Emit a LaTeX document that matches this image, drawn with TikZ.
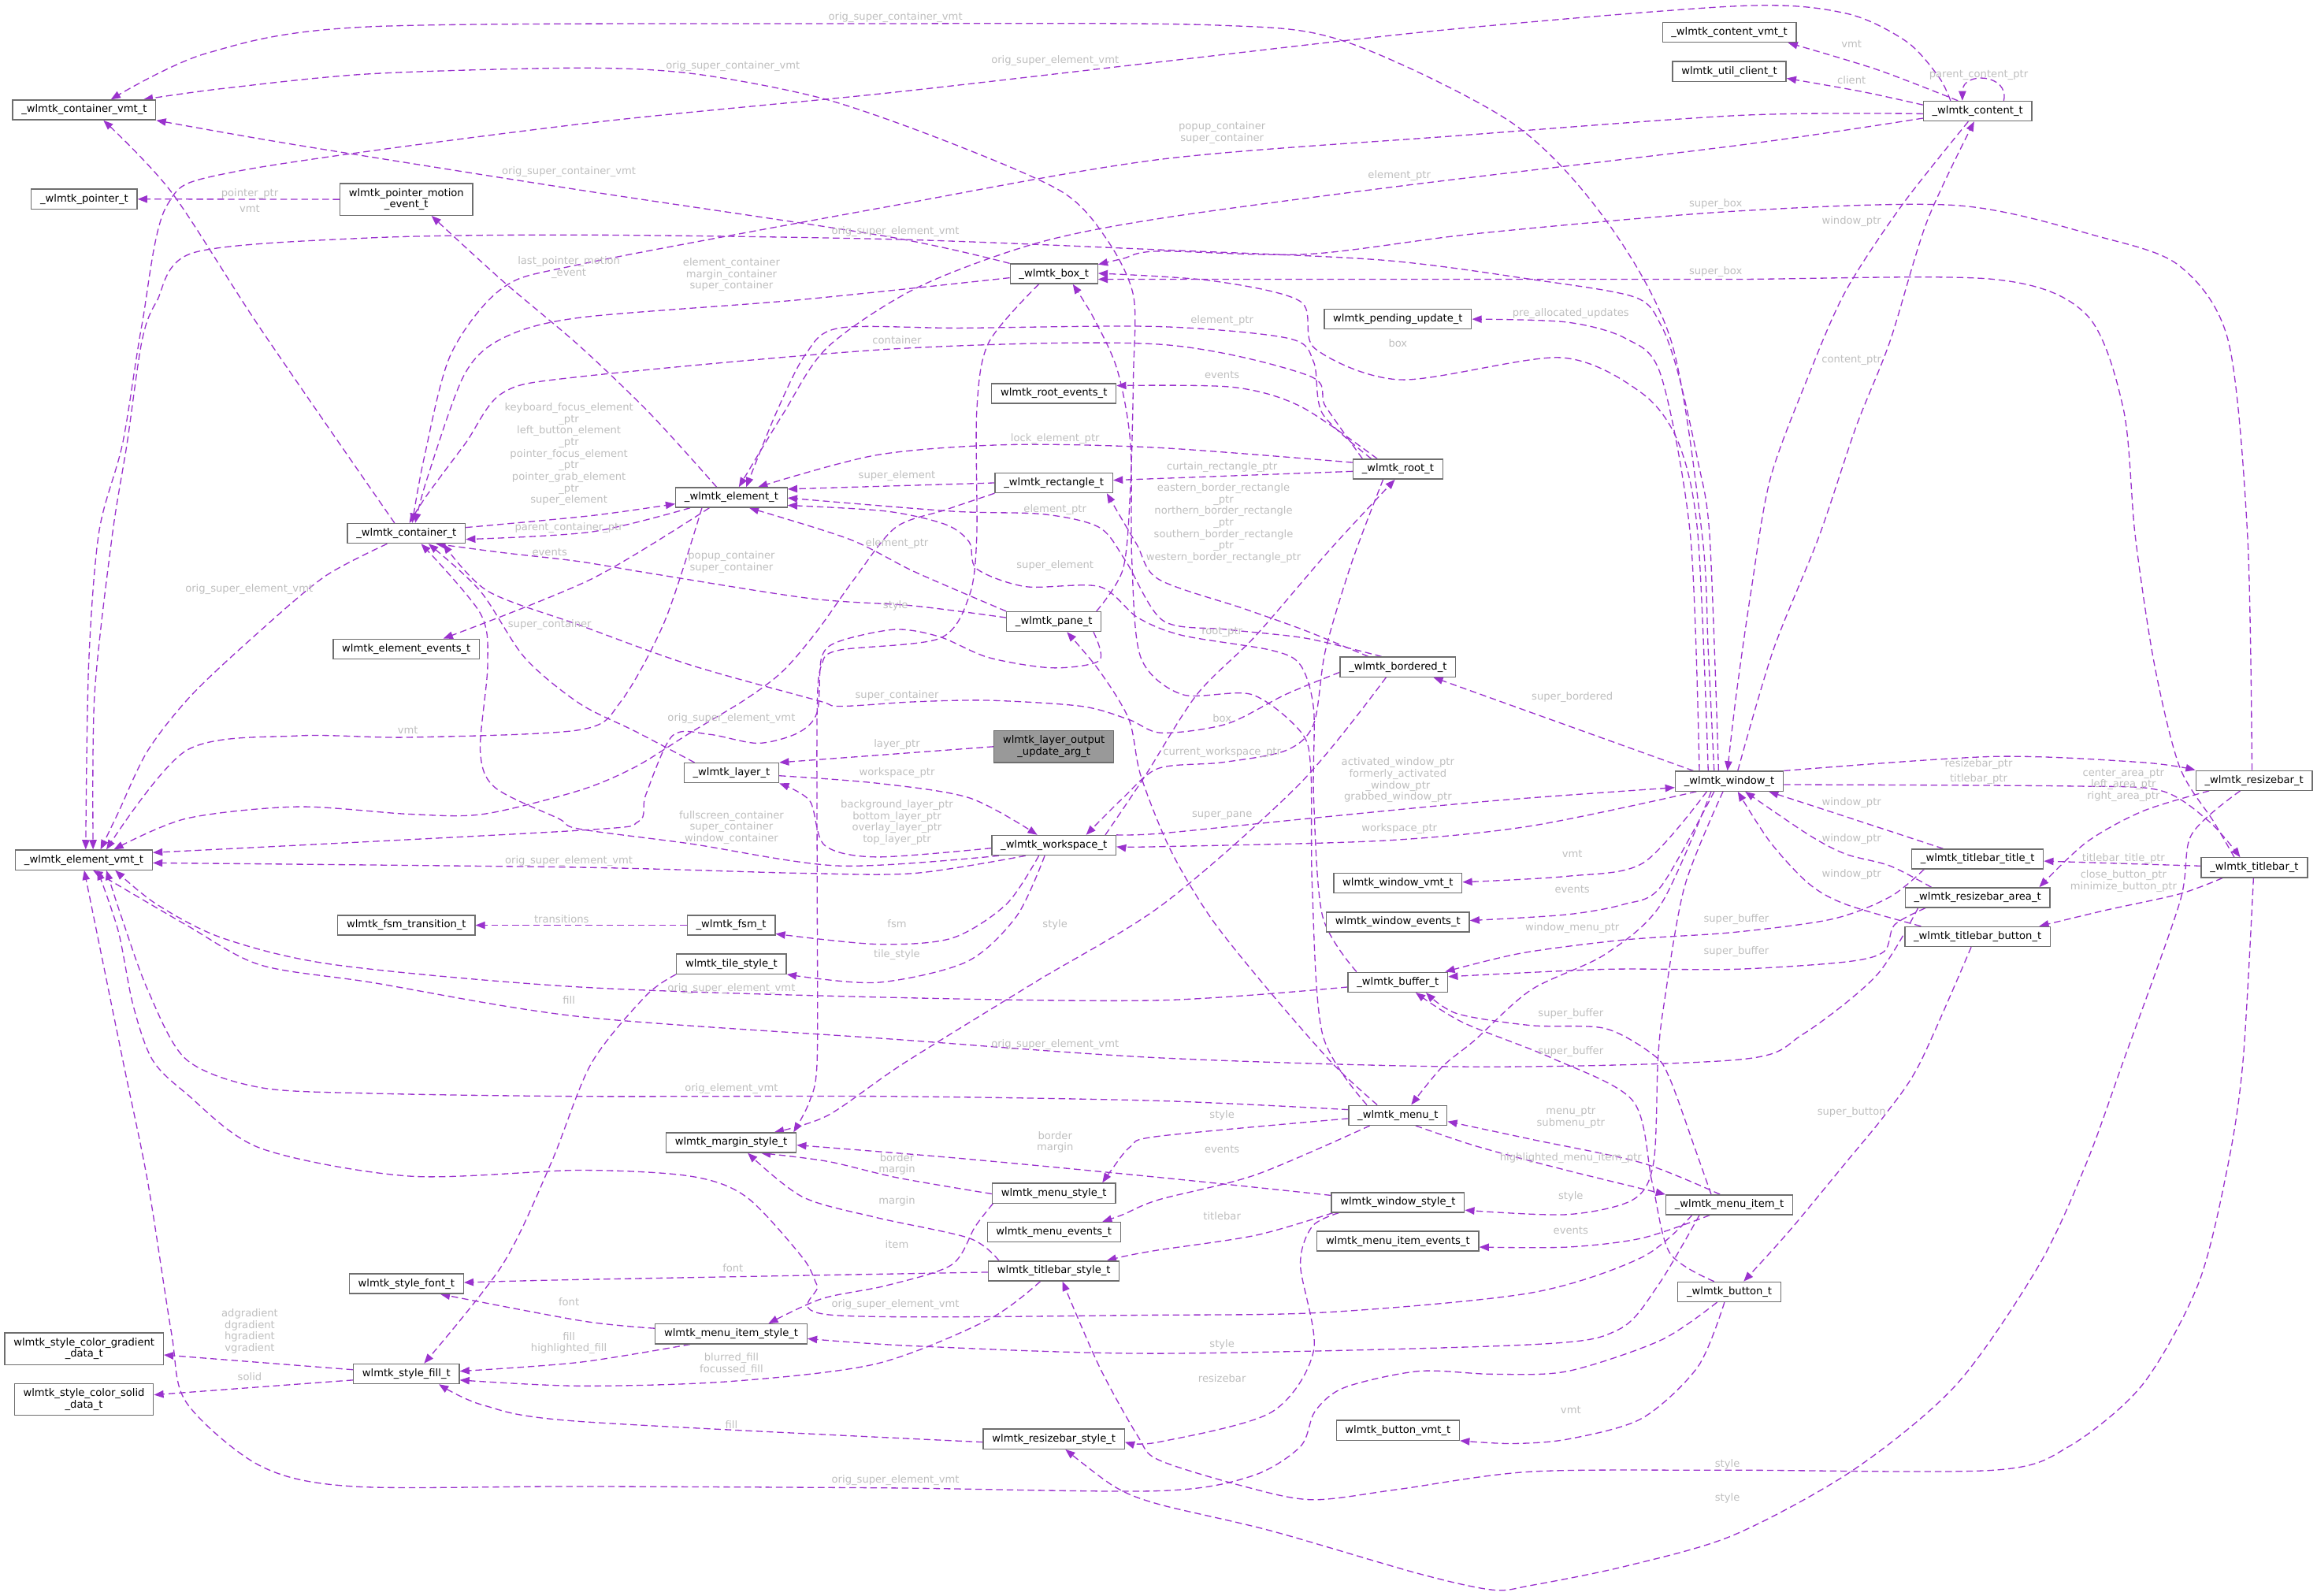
\documentclass[tikz,border=0pt]{standalone}
\usepackage{fontspec}
\setmainfont{DejaVu Sans}
\usetikzlibrary{arrows.meta}
\definecolor{depcol}{RGB}{154,50,205}
\definecolor{boxgray}{RGB}{110,110,110}
\definecolor{lblgray}{RGB}{190,190,190}
\definecolor{hlgray}{RGB}{153,153,153}
\pgfdeclarelayer{bg}
\pgfsetlayers{bg,main}
\tikzset{
  cls/.style={draw=boxgray, line width=0.7pt, fill=white, font=\fontsize{7}{7.8}\selectfont, inner xsep=6pt, inner ysep=2pt, minimum height=13.4pt},
  cls2/.style={cls, align=center, minimum height=21.4pt},
  dep/.style={draw=depcol, line width=0.7pt, dash pattern=on 4.5pt off 2.6pt, -{Triangle[length=6.5pt,width=5pt]}},
  lbl/.style={text=lblgray, font=\fontsize{7}{7.8}\selectfont, inner sep=0pt, align=center},
}
\begin{document}
\begin{tikzpicture}[x=1pt,y=-1pt]
	\useasboundingbox (0,0) rectangle (1568,1080);

	\node[cls] (cvmt) at (57,74.4) {\_wlmtk\_container\_vmt\_t};
	\node[cls] (ptr) at (57,134.7) {\_wlmtk\_pointer\_t};
	\node[cls2] (pme) at (275,135) {wlmtk\_pointer\_motion\\\_event\_t};
	\node[cls] (cont) at (275,361) {\_wlmtk\_container\_t};
	\node[cls] (evmt) at (56.8,582) {\_wlmtk\_element\_vmt\_t};
	\node[cls] (eev) at (275,439.2) {wlmtk\_element\_events\_t};
	\node[cls] (fsmtr) at (275,626.2) {wlmtk\_fsm\_transition\_t};
	\node[cls] (elem) at (495,336.7) {\_wlmtk\_element\_t};
	\node[cls] (box) at (713.2,185.3) {\_wlmtk\_box\_t};
	\node[cls] (rev) at (713.2,266.3) {wlmtk\_root\_events\_t};
	\node[cls] (rect) at (713.2,326.8) {\_wlmtk\_rectangle\_t};
	\node[cls] (pend) at (946,216) {wlmtk\_pending\_update\_t};
	\node[cls] (root) at (946,317.5) {\_wlmtk\_root\_t};
	\node[cls] (ctvmt) at (1170.3,21.9) {\_wlmtk\_content\_vmt\_t};
	\node[cls] (client) at (1170.3,48.3) {wlmtk\_util\_client\_t};
	\node[cls] (content) at (1338.3,75.2) {\_wlmtk\_content\_t};
	\node[cls] (pane) at (713.2,420.7) {\_wlmtk\_pane\_t};
	\node[cls2,fill=hlgray] (luarg) at (713.2,505.3) {wlmtk\_layer\_output\\\_update\_arg\_t};
	\node[cls] (layer) at (495,523.1) {\_wlmtk\_layer\_t};
	\node[cls] (ws) at (713.2,572.1) {\_wlmtk\_workspace\_t};
	\node[cls] (fsm) at (494.8,626.2) {\_wlmtk\_fsm\_t};
	\node[cls] (tile) at (495,652.4) {wlmtk\_tile\_style\_t};
	\node[cls] (bord) at (946,451.4) {\_wlmtk\_bordered\_t};
	\node[cls] (win) at (1170.3,528.7) {\_wlmtk\_window\_t};
	\node[cls] (wvmt) at (946,597.7) {wlmtk\_window\_vmt\_t};
	\node[cls] (wev) at (946,624) {wlmtk\_window\_events\_t};
	\node[cls] (buf) at (946,664.7) {\_wlmtk\_buffer\_t};
	\node[cls] (rbar) at (1525.4,528.2) {\_wlmtk\_resizebar\_t};
	\node[cls] (tbtitle) at (1338.3,581.4) {\_wlmtk\_titlebar\_title\_t};
	\node[cls] (tbar) at (1525.6,587.2) {\_wlmtk\_titlebar\_t};
	\node[cls] (rarea) at (1338.3,607.5) {\_wlmtk\_resizebar\_area\_t};
	\node[cls] (tbbtn) at (1338.3,633.9) {\_wlmtk\_titlebar\_button\_t};
	\node[cls2] (grad) at (56.9,912.8) {wlmtk\_style\_color\_gradient\\\_data\_t};
	\node[cls2] (solid) at (56.8,947) {wlmtk\_style\_color\_solid\\\_data\_t};
	\node[cls] (font) at (275,868.8) {wlmtk\_style\_font\_t};
	\node[cls] (fill) at (275,929.8) {wlmtk\_style\_fill\_t};
	\node[cls] (margin) at (494.8,773.3) {wlmtk\_margin\_style\_t};
	\node[cls] (mstyle) at (713.2,807.5) {wlmtk\_menu\_style\_t};
	\node[cls] (mev) at (713.2,833.9) {wlmtk\_menu\_events\_t};
	\node[cls] (tbstyle) at (713.2,860.2) {wlmtk\_titlebar\_style\_t};
	\node[cls] (mistyle) at (494.8,902.8) {wlmtk\_menu\_item\_style\_t};
	\node[cls] (rbstyle) at (713.2,973.9) {wlmtk\_resizebar\_style\_t};
	\node[cls] (menu) at (946,754.8) {\_wlmtk\_menu\_t};
	\node[cls] (wstyle) at (946,813.8) {wlmtk\_window\_style\_t};
	\node[cls] (miev) at (946,840) {wlmtk\_menu\_item\_events\_t};
	\node[cls] (bvmt) at (946,968) {wlmtk\_button\_vmt\_t};
	\node[cls] (mitem) at (1170.3,815.4) {\_wlmtk\_menu\_item\_t};
	\node[cls] (button) at (1170.3,874.3) {\_wlmtk\_button\_t};

	\begin{pgfonlayer}{bg}
	\draw[dep] plot[smooth] coordinates {(win.north -| 1160,0) (1156,440) (1152,363) (1131,231) (1086,148) (1023,83) (910,28) (822,17) (600,16) (252,18) (140,36) (cvmt.north -| 75,0)};
	\draw[dep] plot[smooth] coordinates {(pane.north -| 742,0) (760,385) (765,330) (767,254) (767,200) (749,162) (719,130) (644,97) (558,67) (470,50) (392,46) (250,50) (150,60) (cvmt.north -| 97,0)};
	\draw[dep] plot[smooth] coordinates {(box.north west) (600,160) (395,129) (200,98) (cvmt.south east)};
	\draw[dep] plot[smooth] coordinates {(cont.north -| 267,0) (176,222) (116,130) (cvmt.south -| 70,0)};

	\draw[dep] (pme) -- (ptr);
	\draw[dep] plot[smooth] coordinates {(elem.north -| 485,0) (440,280) (392,234) (340,190) (pme.south -| 292,0)};

	\draw[dep] plot[smooth] coordinates {(content.north -| 1325,0) (1270,47) (ctvmt.south -| 1210,0)};
	\draw[dep] plot[smooth] coordinates {(content.west |- 0,71) (1260,62) (client.east |- 0,53)};
	\draw[dep] (content.north -| 1356,0) .. controls (1360,50) and (1328,48) .. (content.north -| 1328,0);
	\draw[dep] plot[smooth] coordinates {(content.north -| 1320,0) (1312,52) (1290,28) (1249,9) (1178,4) (980,20) (784,42) (600,63) (392,84) (160,116) (113,139) (96,220) (83,300) (67,360) (60,450) (evmt.north -| 58,0)};
	\draw[dep] plot[smooth] coordinates {(content.west |- 0,77) (1179,78) (984,92) (784,108) (600,140) (392,179) (340,195) (305,240) (287,310) (cont.north -| 279,0)};
	\draw[dep] plot[smooth] coordinates {(content.west |- 0,80) (1179,98) (947,126) (784,148) (700,165) (620,195) (560,235) (530,280) (elem.north -| 500,0)};
	\draw[dep] plot[smooth] coordinates {(content.south -| 1332,0) (1287,139) (1249,197) (1224,254) (1198,324) (1185,400) (1175,470) (win.north -| 1169,0)};

	\draw[dep] plot[smooth] coordinates {(win.north -| 1176,0) (1200,440) (1231,363) (1256,289) (1279,231) (1304,150) (content.south -| 1336,0)};
	\draw[dep] plot[smooth] coordinates {(win.north -| 1163,0) (1157,363) (1149,312) (1136,254) (1124,220) (1106,201) (1036,189) (935,176) (784,169) (606,162) (394,159) (250,161) (131,171) (106,204) (96,231) (86,300) (76,362) (64,470) (evmt.north -| 63,0)};
	\draw[dep] plot[smooth] coordinates {(win.north -| 1156,0) (1149,362) (1136,300) (1111,266) (1056,242) (948,257) (890,236) (880,204) (820,190) (box.east |- 0,185)};
	\draw[dep] plot[smooth] coordinates {(win.north -| 1150,0) (1144,363) (1124,254) (1100,229) (1060,218) (pend.east)};
	\draw[dep] (win.north -| 1146,0) -- (bord.south -| 970,0);
	\draw[dep] plot[smooth] coordinates {(win.south -| 1148,0) (1036,559) (935,569) (784,573) (ws.east |- 0,573)};
	\draw[dep] plot[smooth] coordinates {(win.south -| 1155,0) (1112,584) (1061,593) (wvmt.east |- 0,597)};
	\draw[dep] plot[smooth] coordinates {(win.south -| 1160,0) (1124,600) (1099,612) (1060,619) (wev.east |- 0,623)};
	\draw[dep] plot[smooth] coordinates {(win.south -| 1158,0) (1124,612) (1086,646) (1036,670) (998,704) (976,722) (menu.north -| 955,0)};
	\draw[dep] plot[smooth] coordinates {(win.south -| 1166,0) (1140,600) (1126,680) (1122,717) (1119,787) (1105,812) (1060,822) (wstyle.east |- 0,819)};
	\draw[dep] plot[smooth] coordinates {(win.north east) (1349,512) (1450,516) (rbar.north west)};
	\draw[dep] plot[smooth] coordinates {(win.east |- 0,531) (1400,532) (1462,535) (1495,556) (tbar.north -| 1516,0)};
	\draw[dep] plot[smooth] coordinates {(ws.north east) (786,564) (885,554) (1010,542) (win.west |- 0,533)};

	\draw[dep] plot[smooth] coordinates {(tbtitle.north -| 1315,0) (1250,553) (win.south -| 1197,0)};
	\draw[dep] plot[smooth] coordinates {(rarea.north -| 1307,0) (1279,586) (1249,578) (1224,565) (win.south -| 1181,0)};
	\draw[dep] plot[smooth] coordinates {(tbbtn.north -| 1300,0) (1249,612) (1224,598) (1198,570) (win.south -| 1176,0)};

	\draw[dep] plot[smooth] coordinates {(rbar.north -| 1524,0) (1521,363) (1508,231) (1475,180) (1420,160) (1324,139) (1173,143) (1000,158) (885,172) (784,170) (760,175) (box.east |- 0,179)};
	\draw[dep] plot[smooth] coordinates {(rbar.south -| 1495,0) (1450,549) (1412,570) (rarea.north -| 1380,0)};
	\draw[dep] plot[smooth] coordinates {(rbar.south -| 1516,0) (1483,565) (1475,611) (1437,718) (1412,787) (1380,856) (1324,937) (1254,995) (1173,1039) (1100,1060) (1036,1073) (1010,1076) (960,1065) (860,1036) (784,1018) (754,1006) (rbstyle.south -| 721,0)};

	\draw[dep] plot[smooth] coordinates {(tbar.north -| 1512,0) (1498,556) (1475,519) (1458,450) (1445,363) (1437,277) (1412,213) (1349,189) (1173,189) (1000,189) (784,189) (box.east |- 0,189)};
	\draw[dep] (tbar) -- (tbtitle);
	\draw[dep] plot[smooth] coordinates {(tbar.south -| 1504,0) (1475,605) (1425,616) (tbbtn.north -| 1380,0)};
	\draw[dep] plot[smooth] coordinates {(tbar.south -| 1525,0) (1518,717) (1508,787) (1488,868) (1450,937) (1400,979) (1349,995) (1173,995) (1036,996) (946,1008) (888,1015) (842,1006) (784,988) (770,972) (744,925) (tbstyle.south -| 719,0)};

	\draw[dep] plot[smooth] coordinates {(tbtitle.south -| 1302,0) (1279,607) (1240,622) (1173,631) (1100,636) (1030,645) (buf.north -| 978,0)};
	\draw[dep] plot[smooth] coordinates {(rarea.south -| 1303,0) (1282,626) (1275,644) (1249,651) (1173,656) (1086,656) (buf.east |- 0,661)};
	\draw[dep] plot[smooth] coordinates {(rarea.south -| 1298,0) (1270,660) (1220,700) (1178,717) (1000,722) (786,716) (600,703) (392,688) (252,665) (176,653) (126,626) (evmt.south -| 63,0)};
	\draw[dep] plot[smooth] coordinates {(tbbtn.south -| 1334,0) (1299,720) (1276,754) (1249,787) (1211,833) (button.north -| 1180,0)};
	\draw[dep] plot[smooth] coordinates {(mitem.north -| 1158,0) (1148,780) (1130,730) (1119,714) (1086,696) (1036,694) (986,686) (buf.south -| 965,0)};
	\draw[dep] plot[smooth] coordinates {(button.north -| 1160,0) (1130,848) (1118,800) (1105,745) (1050,716) (990,692) (buf.south -| 958,0)};
	\draw[dep] plot[smooth] coordinates {(button.south -| 1167,0) (1149,925) (1111,960) (1061,974) (1023,977) (bvmt.south east)};
	\draw[dep] plot[smooth] coordinates {(button.south -| 1162,0) (1124,907) (1061,928) (1010,930) (960,928) (910,939) (890,955) (880,979) (847,999) (784,1009) (600,1007) (392,1006) (239,1006) (176,992) (126,949) (116,902) (100,800) (83,717) (evmt.south -| 57,0)};

	\draw[dep] plot[smooth] coordinates {(mitem.north -| 1164,0) (1111,787) (1036,771) (menu.east |- 0,759)};
	\draw[dep] plot[smooth] coordinates {(menu.south -| 958,0) (1000,776) (1060,792) (mitem.north west)};
	\draw[dep] plot[smooth] coordinates {(menu.west |- 0,757) (784,769) (765,776) (752,792) (mstyle.north -| 746,0)};
	\draw[dep] plot[smooth] coordinates {(menu.south -| 927,0) (850,795) (784,812) (760,822) (mev.north -| 746,0)};
	\draw[dep] plot[smooth] coordinates {(menu.west |- 0,751) (784,745) (600,742) (394,742) (252,740) (176,736) (126,717) (100,670) (82,620) (evmt.south -| 72,0)};
	\draw[dep] plot[smooth] coordinates {(menu.north -| 932,0) (902,720) (860,672) (820,622) (792,575) (772,525) (764,487) (744,454) (pane.south -| 722,0)};
	\draw[dep] plot[smooth] coordinates {(menu.north -| 925,0) (895,700) (888,600) (887,520) (880,495) (847,470) (800,470) (772,445) (766,380) (765,300) (756,250) (740,215) (box.south -| 726,0)};

	\draw[dep] plot[smooth] coordinates {(mitem.south -| 1157,0) (1111,838) (1061,844) (miev.east |- 0,844)};
	\draw[dep] plot[smooth] coordinates {(mitem.south -| 1150,0) (1122,870) (1095,900) (1036,910) (784,916) (620,911) (mistyle.east |- 0,906)};
	\draw[dep] plot[smooth] coordinates {(mitem.south -| 1145,0) (1111,851) (1036,875) (900,888) (784,890) (563,890) (553,870) (543,851) (505,810) (467,796) (392,792) (277,796) (176,777) (126,740) (103,717) (90,680) (80,630) (evmt.south -| 66,0)};

	\draw[dep] plot[smooth] coordinates {(wstyle.west |- 0,809) (786,797) (650,784) (margin.east |- 0,775)};
	\draw[dep] plot[smooth] coordinates {(wstyle.south -| 902,0) (850,836) (784,846) (762,850) (tbstyle.north -| 749,0)};
	\draw[dep] plot[smooth] coordinates {(wstyle.south -| 906,0) (888,830) (880,856) (889,914) (860,956) (784,976) (rbstyle.east |- 0,976)};
	\draw[dep] plot[smooth] coordinates {(mstyle.west |- 0,808) (607,797) (560,786) (margin.south -| 515,0)};
	\draw[dep] plot[smooth] coordinates {(tbstyle.north -| 676,0) (656,838) (593,824) (543,810) (margin.south -| 506,0)};
	\draw[dep] plot[smooth] coordinates {(mstyle.south -| 672,0) (660,830) (644,856) (600,870) (556,879) (mistyle.north -| 520,0)};
	\draw[dep] plot[smooth] coordinates {(tbstyle.west |- 0,861) (392,866) (font.east |- 0,868)};
	\draw[dep] plot[smooth] coordinates {(mistyle.west |- 0,899) (394,894) (font.south -| 298,0)};
	\draw[dep] plot[smooth] coordinates {(mistyle.south -| 467,0) (392,922) (fill.east |- 0,928)};
	\draw[dep] plot[smooth] coordinates {(tbstyle.south -| 704,0) (669,893) (593,923) (493,935) (392,938) (fill.east |- 0,934)};
	\draw[dep] plot[smooth] coordinates {(rbstyle.west |- 0,976) (392,962) (327,951) (fill.south -| 297,0)};
	\draw[dep] plot[smooth] coordinates {(tile.south west) (437,674) (400,720) (373,787) (340,856) (fill.north -| 287,0)};
	\draw[dep] (fill.west |- 0,927) -- (grad.east |- 0,917);
	\draw[dep] (fill.west |- 0,934) -- (solid.east |- 0,944);

	\draw[dep] plot[smooth] coordinates {(layer.east |- 0,525) (593,530) (656,540) (ws.north -| 702,0)};
	\draw[dep] plot[smooth] coordinates {(ws.west |- 0,574) (593,580) (558,572) (548,542) (layer.south east)};
	\draw[dep] (luarg.west) -- (layer.north east);
	\draw[dep] plot[smooth] coordinates {(ws.south -| 694,0) (619,591) (543,591) (392,587) (evmt.east |- 0,584)};
	\draw[dep] plot[smooth] coordinates {(ws.south -| 676,0) (568,586) (467,571) (392,561) (378,554) (335,533) (325,508) (330,450) (325,415) (cont.south -| 285,0)};
	\draw[dep] plot[smooth] coordinates {(ws.south -| 703,0) (681,612) (644,635) (593,639) (fsm.east |- 0,632)};
	\draw[dep] plot[smooth] coordinates {(ws.south -| 707,0) (688,620) (654,651) (593,665) (tile.south east)};
	\draw[dep] (fsm) -- (fsmtr);
	\draw[dep] plot[smooth] coordinates {(root.south -| 936,0) (915,380) (897,440) (889,490) (870,508) (827,516) (784,520) (760,540) (ws.north -| 735,0)};
	\draw[dep] plot[smooth] coordinates {(ws.north -| 748,0) (775,525) (810,470) (850,430) (900,372) (root.south -| 944,0)};

	\draw[dep] plot[smooth] coordinates {(root.north -| 922,0) (897,275) (885,254) (784,233) (607,236) (392,255) (340,266) (315,300) (289,335) (cont.north -| 277,0)};
	\draw[dep] plot[smooth] coordinates {(root.north -| 932,0) (880,275) (834,262) (rev.east |- 0,261)};
	\draw[dep] plot[smooth] coordinates {(root.west |- 0,313) (784,303) (681,301) (593,308) (elem.north -| 513,0)};
	\draw[dep] (root.west |- 0,319) -- (rect.east |- 0,325);
	\draw[dep] plot[smooth] coordinates {(root.north -| 928,0) (895,280) (889,245) (872,229) (784,221) (650,222) (568,222) (545,240) (525,280) (elem.north -| 505,0)};

	\draw[dep] plot[smooth] coordinates {(bord.north -| 926,0) (884,427) (842,412) (784,392) (769,368) (rect.south -| 749,0)};
	\draw[dep] plot[smooth] coordinates {(bord.north -| 935,0) (884,432) (830,426) (787,420) (762,380) (744,357) (706,348) (644,346) (elem.east |- 0,337)};
	\draw[dep] plot[smooth] coordinates {(bord.west |- 0,455) (870,470) (830,490) (786,496) (764,487) (732,478) (669,474) (618,475) (568,478) (553,474) (467,450) (392,423) (330,400) (cont.south -| 300,0)};
	\draw[dep] plot[smooth] coordinates {(bord.south -| 938,0) (880,530) (787,612) (700,665) (611,720) (560,755) (margin.north -| 524,0)};

	\draw[dep] plot[smooth] coordinates {(buf.west |- 0,668) (784,677) (600,675) (392,668) (227,653) (151,635) (106,612) (evmt.south -| 78,0)};
	\draw[dep] plot[smooth] coordinates {(buf.north -| 918,0) (895,620) (889,540) (889,480) (880,450) (860,440) (800,430) (770,418) (744,397) (694,397) (661,385) (656,367) (640,355) (600,346) (elem.east |- 0,342)};

	\draw[dep] plot[smooth] coordinates {(cont.east |- 0,357) (400,349) (elem.west |- 0,341)};
	\draw[dep] plot[smooth] coordinates {(elem.south -| 467,0) (400,360) (cont.east |- 0,365)};
	\draw[dep] plot[smooth] coordinates {(elem.south -| 480,0) (400,392) (eev.north -| 300,0)};
	\draw[dep] plot[smooth] coordinates {(cont.south -| 262,0) (220,390) (176,427) (130,470) (100,508) (80,550) (evmt.north -| 68,0)};
	\draw[dep] plot[smooth] coordinates {(elem.south -| 475,0) (450,420) (420,475) (392,494) (277,499) (201,498) (126,508) (evmt.north -| 72,0)};
	\draw[dep] (rect.west) -- (elem.east |- 0,331);
	\draw[dep] plot[smooth] coordinates {(rect.south west) (640,345) (606,357) (578,392) (553,427) (530,454) (505,473) (467,496) (430,519) (392,535) (327,551) (277,551) (201,546) (126,554) (evmt.north -| 77,0)};
	\draw[dep] plot[smooth] coordinates {(pane.north west) (619,387) (575,365) (elem.south -| 507,0)};
	\draw[dep] plot[smooth] coordinates {(pane.west |- 0,418) (618,410) (548,405) (440,388) (392,380) (340,374) (cont.south -| 295,0)};
	\draw[dep] plot[smooth] coordinates {(pane.south -| 740,0) (744,447) (712,452) (669,445) (636,431) (606,426) (568,434) (556,445) (553,482) (540,496) (513,503) (480,497) (455,498) (437,538) (432,556) (392,562) (evmt.east |- 0,577)};
	\draw[dep] plot[smooth] coordinates {(box.west |- 0,188) (540,203) (392,215) (340,229) (314,254) (289,324) (cont.north -| 281,0)};
	\draw[dep] plot[smooth] coordinates {(box.south -| 703,0) (669,232) (661,278) (661,363) (656,403) (636,432) (568,440) (556,450) (553,480) (553,600) (553,717) (548,745) (margin.north -| 537,0)};
	\draw[dep] plot[smooth] coordinates {(layer.north -| 470,0) (430,495) (392,476) (355,445) (325,400) (cont.south -| 290,0)};
	\end{pgfonlayer}

	\node[lbl] (l1) at (606,12) {orig\_super\_container\_vmt};
	\node[lbl] (l2) at (496,45) {orig\_super\_container\_vmt};
	\node[lbl] (l3) at (714,41) {orig\_super\_element\_vmt};
	\node[lbl] (l4) at (385,116) {orig\_super\_container\_vmt};
	\node[lbl] (l5) at (169,131) {pointer\_ptr};
	\node[lbl] (l6) at (169,141) {vmt};
	\node[lbl] (l7) at (385,181) {last\_pointer\_motion\\\_event};
	\node[lbl] (l8) at (1253,30) {vmt};
	\node[lbl] (l9) at (1253,54) {client};
	\node[lbl] (l10) at (1339,51) {parent\_content\_ptr};
	\node[lbl] (l11) at (827,90) {popup\_container\\super\_container};
	\node[lbl] (l12) at (947,119) {element\_ptr};
	\node[lbl] (l13) at (1253,150) {window\_ptr};
	\node[lbl] (l14) at (1253,244) {content\_ptr};
	\node[lbl] (l15) at (606,157) {orig\_super\_element\_vmt};
	\node[lbl] (l16) at (1161,138) {super\_box};
	\node[lbl] (l17) at (1161,184) {super\_box};
	\node[lbl] (l18) at (946,232) {box};
	\node[lbl] (l19) at (1063,212) {pre\_allocated\_updates};
	\node[lbl] (l20) at (495,186) {element\_container\\margin\_container\\super\_container};
	\node[lbl] (l21) at (607,230) {container};
	\node[lbl] (l22) at (827,254) {events};
	\node[lbl] (l23) at (714,297) {lock\_element\_ptr};
	\node[lbl] (l24) at (827,316) {curtain\_rectangle\_ptr};
	\node[lbl] (l25) at (828,354) {eastern\_border\_rectangle\\\_ptr\\northern\_border\_rectangle\\\_ptr\\southern\_border\_rectangle\\\_ptr\\western\_border\_rectangle\_ptr};
	\node[lbl] (l26) at (714,345) {element\_ptr};
	\node[lbl] (l27) at (607,322) {super\_element};
	\node[lbl] (l28) at (827,217) {element\_ptr};
	\node[lbl] (l29) at (607,368) {element\_ptr};
	\node[lbl] (l30) at (495,380.5) {popup\_container\\super\_container};
	\node[lbl] (l31) at (827,552) {super\_pane};
	\node[lbl] (l32) at (606,410) {style};
	\node[lbl] (l33) at (495,486) {orig\_super\_element\_vmt};
	\node[lbl] (l34) at (607,471) {super\_container};
	\node[lbl] (l35) at (372,423) {super\_container};
	\node[lbl] (l36) at (495,560) {fullscreen\_container\\super\_container\\window\_container};
	\node[lbl] (l37) at (607,523) {workspace\_ptr};
	\node[lbl] (l38) at (607,556.6) {background\_layer\_ptr\\bottom\_layer\_ptr\\overlay\_layer\_ptr\\top\_layer\_ptr};
	\node[lbl] (l39) at (607,504) {layer\_ptr};
	\node[lbl] (l40) at (385,583) {orig\_super\_element\_vmt};
	\node[lbl] (l41) at (607,625) {fsm};
	\node[lbl] (l42) at (607,646) {tile\_style};
	\node[lbl] (l43) at (380,622) {transitions};
	\node[lbl] (l44) at (385,677) {fill};
	\node[lbl] (l45) at (714,626) {style};
	\node[lbl] (l46) at (827,509) {current\_workspace\_ptr};
	\node[lbl] (l47) at (827,428) {root\_ptr};
	\node[lbl] (l48) at (827,486) {box};
	\node[lbl] (l49) at (714,383) {super\_element};
	\node[lbl] (l50) at (947,561) {workspace\_ptr};
	\node[lbl] (l51) at (946,528) {activated\_window\_ptr\\formerly\_activated\\\_window\_ptr\\grabbed\_window\_ptr};
	\node[lbl] (l52) at (1064,472) {super\_bordered};
	\node[lbl] (l53) at (1064,578) {vmt};
	\node[lbl] (l54) at (1064,602) {events};
	\node[lbl] (l55) at (1064,628) {window\_menu\_ptr};
	\node[lbl] (l56) at (1063,810) {style};
	\node[lbl] (l57) at (1339,517) {resizebar\_ptr};
	\node[lbl] (l58) at (1339,527.5) {titlebar\_ptr};
	\node[lbl] (l59) at (1253,543.5) {window\_ptr};
	\node[lbl] (l60) at (1253,568) {window\_ptr};
	\node[lbl] (l61) at (1253,592) {window\_ptr};
	\node[lbl] (l62) at (1437,531.5) {center\_area\_ptr\\left\_area\_ptr\\right\_area\_ptr};
	\node[lbl] (l63) at (1437,581) {titlebar\_title\_ptr};
	\node[lbl] (l64) at (1437,596.5) {close\_button\_ptr\\minimize\_button\_ptr};
	\node[lbl] (l65) at (1175,622) {super\_buffer};
	\node[lbl] (l66) at (1175,644) {super\_buffer};
	\node[lbl] (l67) at (1253,753) {super\_button};
	\node[lbl] (l68) at (1063,686) {super\_buffer};
	\node[lbl] (l69) at (1063,712) {super\_buffer};
	\node[lbl] (l70) at (1063,954) {vmt};
	\node[lbl] (l71) at (606,1002) {orig\_super\_element\_vmt};
	\node[lbl] (l72) at (1063,756.6) {menu\_ptr\\submenu\_ptr};
	\node[lbl] (l73) at (1063,784) {highlighted\_menu\_item\_ptr};
	\node[lbl] (l74) at (827,755) {style};
	\node[lbl] (l75) at (827,778) {events};
	\node[lbl] (l76) at (495,737) {orig\_element\_vmt};
	\node[lbl] (l77) at (1063,833) {events};
	\node[lbl] (l78) at (827,910) {style};
	\node[lbl] (l79) at (606,883) {orig\_super\_element\_vmt};
	\node[lbl] (l80) at (714,773) {border\\margin};
	\node[lbl] (l81) at (827,823) {titlebar};
	\node[lbl] (l82) at (827,933) {resizebar};
	\node[lbl] (l83) at (607,788) {border\\margin};
	\node[lbl] (l84) at (607,813) {margin};
	\node[lbl] (l85) at (607,842) {item};
	\node[lbl] (l86) at (496,858) {font};
	\node[lbl] (l87) at (385,881) {font};
	\node[lbl] (l88) at (385,909) {fill\\highlighted\_fill};
	\node[lbl] (l89) at (495,923) {blurred\_fill\\focussed\_fill};
	\node[lbl] (l90) at (495,964) {fill};
	\node[lbl] (l91) at (169,901) {adgradient\\dgradient\\hgradient\\vgradient};
	\node[lbl] (l92) at (169,931.5) {solid};
	\node[lbl] (l93) at (385,307.5) {keyboard\_focus\_element\\\_ptr\\left\_button\_element\\\_ptr\\pointer\_focus\_element\\\_ptr\\pointer\_grab\_element\\\_ptr\\super\_element};
	\node[lbl] (l94) at (385,357) {parent\_container\_ptr};
	\node[lbl] (l95) at (372,373.5) {events};
	\node[lbl] (l96) at (168.6,399) {orig\_super\_element\_vmt};
	\node[lbl] (l97) at (276,494) {vmt};
	\node[lbl] (l98) at (1169,991) {style};
	\node[lbl] (l99) at (1169,1014) {style};
	\node[lbl] (l100) at (714,707) {orig\_super\_element\_vmt};
	\node[lbl] (l101) at (495,669) {orig\_super\_element\_vmt};
\end{tikzpicture}
\end{document}
